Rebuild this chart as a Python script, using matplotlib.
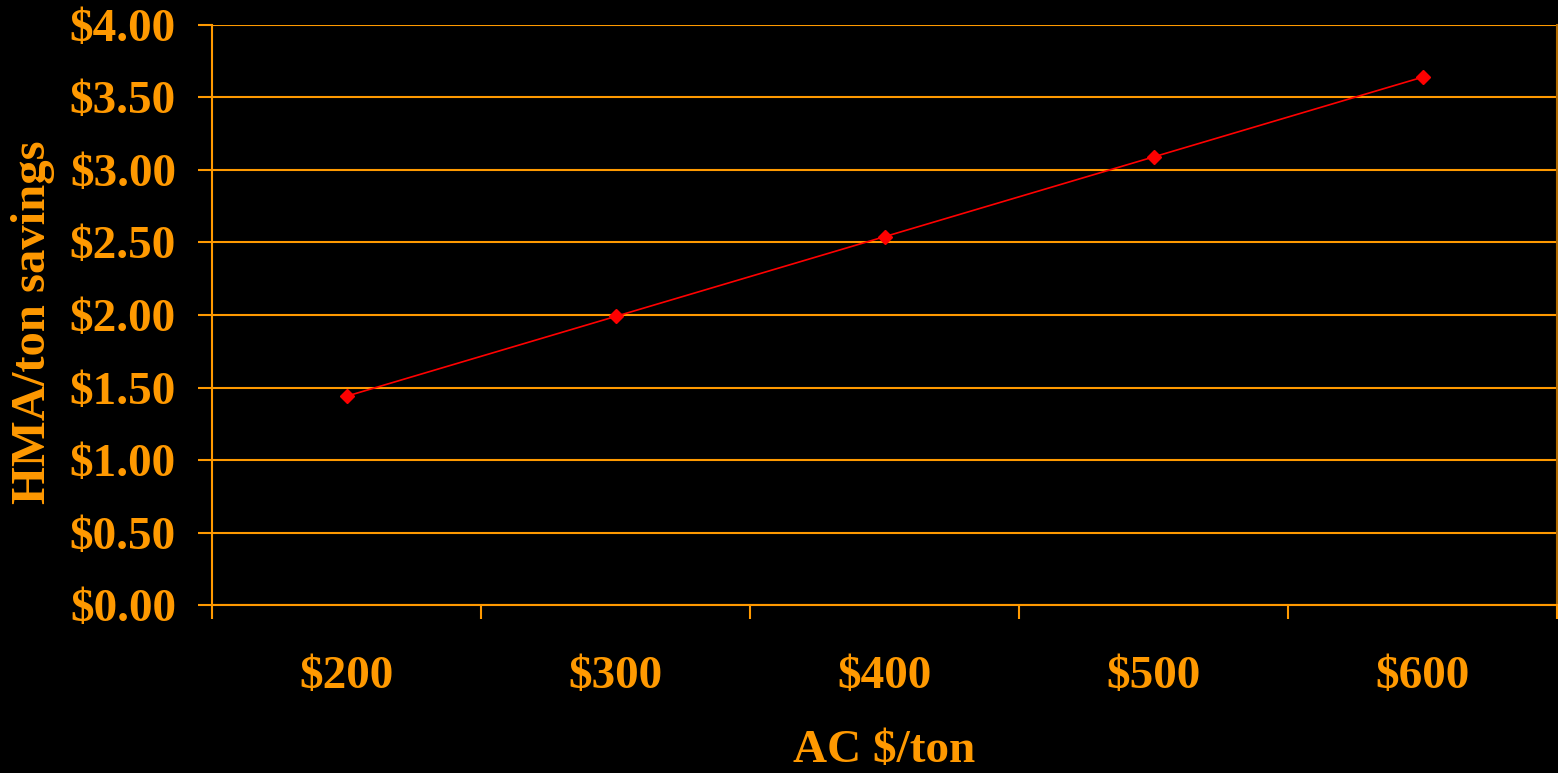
import numpy as np
import matplotlib.pyplot as plt

categories = ["$200", "$300", "$400", "$500", "$600"]
savings = [1.44, 1.99, 2.54, 3.09, 3.64]
y_ticks = [0.0, 0.5, 1.0, 1.5, 2.0, 2.5, 3.0, 3.5, 4.0]

orange = "#FF9900"
plt.rcParams['font.family'] = ['Liberation Serif', 'DejaVu Serif']

fig = plt.figure(figsize=(15.58, 7.73), dpi=100, facecolor="black")
ax = fig.add_axes([0.1361, 0.2173, 0.8633, 0.7504], facecolor="black")

x = np.arange(len(categories))
ax.plot(x, savings, color="red", linewidth=1.2, marker="D", markersize=7)

ax.set_xlim(-0.5, len(categories) - 0.5)
ax.set_ylim(0, 4)
ax.set_yticks(y_ticks)
ax.set_yticklabels(["${:.2f}".format(v) for v in y_ticks])
ax.set_xticks(np.arange(len(categories) + 1) - 0.5)
ax.set_xticklabels([])
ax.set_xticks(x, minor=True)
ax.set_xticklabels(categories, minor=True)

ax.grid(axis="y", color=orange, linewidth=1.5)
ax.set_axisbelow(True)
ax.tick_params(axis="both", which="major", color=orange, width=1.5, length=10)
ax.tick_params(axis="y", labelcolor=orange, labelsize=34, pad=16)
ax.tick_params(axis="x", which="minor", length=0, labelcolor=orange, labelsize=34, pad=37)
for lab in ax.get_yticklabels() + ax.get_xticklabels(minor=True):
    lab.set_fontweight("bold")

ax.spines["top"].set_visible(False)
ax.spines["left"].set_color(orange)
ax.spines["bottom"].set_color(orange)
ax.spines["right"].set_color("#B06A00")
for s in ["left", "bottom", "right"]:
    ax.spines[s].set_linewidth(1.5)

ax.set_xlabel("AC $/ton", color=orange, fontsize=34, fontweight="bold", labelpad=23)
ax.set_ylabel("HMA/ton savings", color=orange, fontsize=35, fontweight="bold")
ax.yaxis.set_label_coords(-0.117, 0.488)

fig.savefig("out.png", dpi=100, facecolor="black")
